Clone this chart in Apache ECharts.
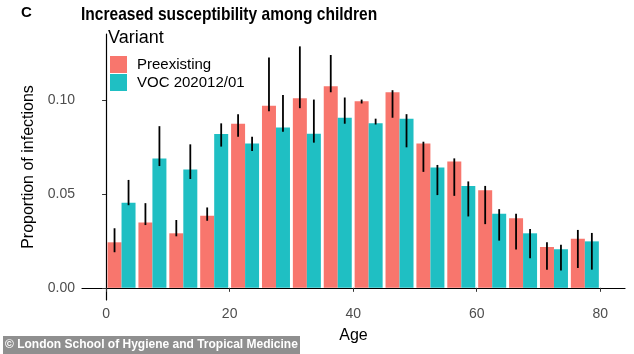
<!DOCTYPE html>
<html>
<head>
<meta charset="utf-8">
<script src="https://cdn.jsdelivr.net/npm/echarts@6/dist/echarts.min.js"></script>
<style>
  html, body { margin: 0; padding: 0; background: #fff; }
  #chart { width: 634px; height: 354px; }
</style>
</head>
<body>
<div id="chart"></div>
<script>
// age band centres (0-4, 5-9, ... 75-79)
const ages = [2.5, 7.5, 12.5, 17.5, 22.5, 27.5, 32.5, 37.5, 42.5, 47.5, 52.5, 57.5, 62.5, 67.5, 72.5, 77.5];
const xTicks = [0, 20, 40, 60, 80];
const yTicks = [0, 0.05, 0.10];

const pre   = [0.0243, 0.0349, 0.0291, 0.0385, 0.0876, 0.0972, 0.1012, 0.1076, 0.0996, 0.1044, 0.0770, 0.0674, 0.0521, 0.0372, 0.0218, 0.0262];
const preLo = [0.0190, 0.0335, 0.0275, 0.0358, 0.0807, 0.0943, 0.0959, 0.1044, 0.0984, 0.0908, 0.0619, 0.0491, 0.0340, 0.0204, 0.0097, 0.0106];
const preHi = [0.0318, 0.0452, 0.0362, 0.0429, 0.0927, 0.1229, 0.1289, 0.1243, 0.1005, 0.1055, 0.0780, 0.0691, 0.0544, 0.0395, 0.0243, 0.0309];

const voc   = [0.0454, 0.0690, 0.0631, 0.0821, 0.0770, 0.0856, 0.0823, 0.0908, 0.0879, 0.0903, 0.0642, 0.0544, 0.0395, 0.0291, 0.0206, 0.0248];
const vocLo = [0.0441, 0.0650, 0.0581, 0.0754, 0.0730, 0.0833, 0.0775, 0.0876, 0.0872, 0.0750, 0.0495, 0.0381, 0.0252, 0.0158, 0.0092, 0.0097];
const vocHi = [0.0576, 0.0863, 0.0766, 0.0878, 0.0807, 0.1030, 0.1005, 0.1016, 0.0903, 0.0927, 0.0656, 0.0568, 0.0420, 0.0314, 0.0230, 0.0293];

const RED = '#F8766D';
const TEAL = '#1FBFC3';
const FONT = 'Liberation Sans, Arial, sans-serif';
const BAR_W = 14;

function errBars(offset) {
  return function (params, api) {
    let x = api.value(0);
    let lo = api.coord([x, api.value(1)]);
    let hi = api.coord([x, api.value(2)]);
    return {
      type: 'line',
      shape: {x1: lo[0] + offset, y1: lo[1], x2: hi[0] + offset, y2: hi[1]},
      style: {stroke: '#000', lineWidth: 1.8}
    };
  };
}

let chart = echarts.init(document.getElementById('chart'), null, {renderer: 'canvas'});

let option = {
  animation: false,
  textStyle: {fontFamily: FONT},
  title: [
    {text: 'Variant', left: 108, top: 29, padding: 0,
     textStyle: {fontSize: 18, fontWeight: 'normal', color: '#000', fontFamily: FONT}}
  ],
  legend: {
    orient: 'vertical',
    left: 110,
    top: 56,
    padding: 0,
    itemWidth: 17,
    itemHeight: 17,
    itemGap: 1,
    icon: 'rect',
    textStyle: {fontSize: 15, color: '#000', padding: [0, 0, 0, 5], fontFamily: FONT},
    data: ['Preexisting', 'VOC 202012/01']
  },
  grid: {left: 82, right: 9, top: 34, bottom: 54, containLabel: false},
  xAxis: {
    type: 'value',
    min: -3.9,
    max: 84,
    name: 'Age',
    nameLocation: 'middle',
    nameGap: 28,
    nameTextStyle: {fontSize: 16, color: '#000'},
    splitLine: {show: false},
    axisLine: {lineStyle: {color: '#000', width: 1.2}},
    axisTick: {customValues: xTicks, length: 4, lineStyle: {color: '#333'}},
    axisLabel: {customValues: xTicks, fontSize: 14, color: '#4d4d4d', margin: 7}
  },
  yAxis: {
    type: 'value',
    min: -0.0065,
    max: 0.1355,
    name: 'Proportion of infections',
    nameLocation: 'middle',
    nameGap: 41,
    nameTextStyle: {fontSize: 16, color: '#000'},
    splitLine: {show: false},
    axisLine: {show: true, lineStyle: {color: '#000', width: 1.2}},
    axisTick: {show: true, customValues: yTicks, length: 4, lineStyle: {color: '#333'}},
    axisLabel: {customValues: yTicks, fontSize: 14, color: '#4d4d4d', margin: 7,
                formatter: v => v.toFixed(2)}
  },
  series: [
    {
      name: 'Preexisting', type: 'bar', barWidth: BAR_W, barGap: '0%',
      itemStyle: {color: RED},
      data: ages.map((a, i) => [a, pre[i]])
    },
    {
      name: 'VOC 202012/01', type: 'bar', barWidth: BAR_W, barGap: '0%',
      itemStyle: {color: TEAL},
      data: ages.map((a, i) => [a, voc[i]])
    },
    {
      type: 'custom', renderItem: errBars(-BAR_W / 2), z: 5,
      data: ages.map((a, i) => [a, preLo[i], preHi[i]])
    },
    {
      type: 'custom', renderItem: errBars(BAR_W / 2), z: 5,
      data: ages.map((a, i) => [a, vocLo[i], vocHi[i]])
    }
  ],
  graphic: [
    {type: 'text', x: 21, y: 5,
     style: {text: 'C', fill: '#000', font: 'bold 15px ' + FONT}},
    {type: 'text', x: 81, y: 5, scaleX: 0.84,
     style: {text: 'Increased susceptibility among children', fill: '#000', font: 'bold 18.5px ' + FONT}},
    {type: 'rect', x: 3, y: 336, shape: {width: 297, height: 18}, style: {fill: '#8f8f8f'}},
    {type: 'text', x: 5, y: 339,
     style: {text: '\u00a9 London School of Hygiene and Tropical Medicine', fill: '#fff',
             font: 'bold 12px ' + FONT}}
  ]
};

chart.setOption(option);
</script>
</body>
</html>
